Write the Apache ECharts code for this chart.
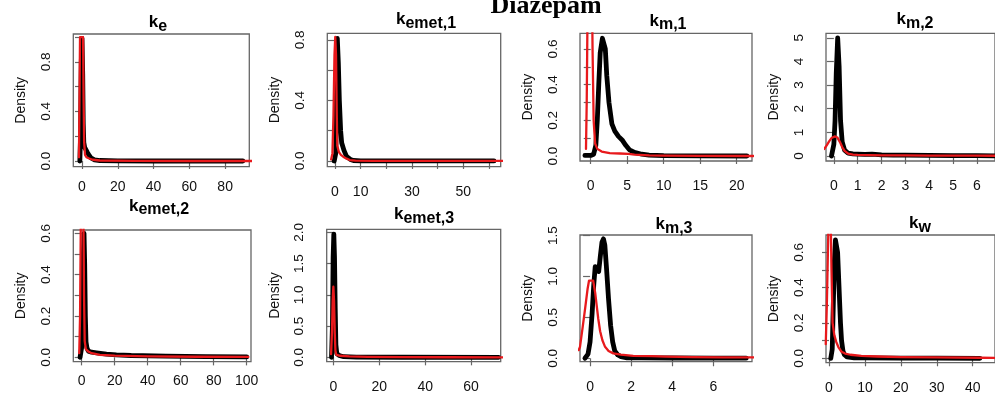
<!DOCTYPE html>
<html>
<head>
<meta charset="utf-8">
<script src="https://cdn.jsdelivr.net/npm/echarts@6/dist/echarts.min.js"></script>
<style>
html,body{margin:0;padding:0;background:#fff;}
#chart{width:995px;height:398px;}
</style>
</head>
<body>
<div id="chart"></div>
<script>
// ---------- data ----------
const mainTitle = 'Diazepam';
const panelNames = [['k','e'],['k','emet,1'],['k','m,1'],['k','m,2'],['k','emet,2'],['k','emet,3'],['k','m,3'],['k','w']];

const keBlack = [[-1.2,0],[-0.8,0.2],[-0.4,0.8],[0,0.99],[0.4,0.7],[0.7,0.3],[1.0,0.15],[1.5,0.11],[2,0.1],[3,0.07],[4,0.045],[5,0.025],[7,0.01],[10,0.004],[20,0.001],[40,0],[60,0],[89.9,0]];
const keRed = [[-1.7,0.03],[-1.4,0.5],[-1.1,1.0],[0.6,1.0],[0.9,0.5],[1.2,0.15],[1.7,0.05],[2.5,0.03],[4,0.02],[6,0.01],[10,0.004],[30,0.001],[60,0],[96,0]];

const kemet1Black = [[-0.3,0],[0.3,0.05],[0.6,0.5],[0.9,0.81],[1.3,0.65],[1.7,0.4],[2.2,0.2],[2.6,0.12],[3.5,0.07],[4.5,0.03],[6,0.01],[7.2,0.003],[10,0.001],[20,0],[40,0],[62,0]];
const kemet1Red = [[-1.5,0.01],[-1,0.05],[-0.6,0.3],[-0.2,0.7],[0.1,0.82],[0.4,0.7],[0.7,0.3],[0.9,0.1],[1.5,0.06],[2.3,0.04],[3.2,0.028],[4.5,0.015],[5.8,0.006],[8,0.002],[15,0.001],[30,0],[66,0]];

const km1Black = [[-0.8,0.003],[0,0.003],[0.4,0.01],[0.7,0.06],[0.9,0.2],[1.1,0.4],[1.3,0.58],[1.6,0.66],[1.8,0.66],[2.0,0.6],[2.2,0.45],[2.5,0.3],[2.9,0.18],[3.3,0.14],[3.8,0.11],[4.3,0.09],[4.8,0.06],[5.3,0.035],[6,0.02],[7,0.01],[8,0.005],[10,0.002],[15,0.001],[21.4,0]];
const km1Red = [[-0.65,0.04],[-0.55,0.3],[-0.45,0.75],[-0.3,1.3],[0,1.5],[0.15,1.0],[0.25,0.6],[0.4,0.2],[0.6,0.07],[0.9,0.04],[1.5,0.025],[2.6,0.016],[4,0.014],[5.2,0.012],[6,0.008],[8,0.004],[10,0.002],[15,0.001],[22.3,0]];

const km2Black = [[-0.1,0],[0,0.5],[0.05,1.5],[0.1,3.5],[0.16,5.0],[0.22,3.8],[0.28,1.5],[0.35,0.6],[0.45,0.25],[0.6,0.12],[0.8,0.09],[1.0,0.08],[1.3,0.07],[1.6,0.08],[2.0,0.05],[2.5,0.04],[3,0.04],[4,0.03],[5,0.02],[6,0.02],[6.8,0.01]];
const km2Red = [[-0.4,0.3],[-0.3,0.45],[-0.2,0.62],[-0.1,0.76],[0.05,0.83],[0.15,0.78],[0.25,0.6],[0.35,0.38],[0.45,0.22],[0.6,0.1],[0.8,0.06],[1.0,0.05],[1.5,0.04],[2,0.03],[3,0.025],[4,0.02],[5,0.02],[6,0.015],[7,0.01]];

const kemet2Black = [[-1,0],[0,0.05],[0.6,0.3],[1.0,0.5],[1.4,0.6],[1.8,0.45],[2.2,0.2],[2.6,0.075],[3.2,0.045],[4,0.03],[6,0.025],[9,0.022],[15,0.016],[21,0.012],[30,0.009],[51,0.006],[75,0.004],[100,0.002]];
const kemet2Red = [[-1.5,0.02],[-1,0.2],[-0.6,0.6],[-0.2,0.9],[0.5,0.95],[1.0,0.7],[1.4,0.3],[1.8,0.08],[2.5,0.04],[4,0.028],[6,0.02],[11,0.012],[20,0.008],[40,0.005],[70,0.003],[101,0.002]];

const kemet3Black = [[-0.8,0],[-0.4,0.5],[-0.1,1.6],[0.2,1.97],[0.5,1.6],[0.8,0.8],[1.1,0.2],[1.5,0.06],[2.5,0.03],[4.5,0.01],[10,0.003],[30,0.001],[72,0]];
const kemet3Red = [[-1,0.05],[-0.6,0.4],[-0.3,0.9],[0,1.13],[0.3,0.9],[0.6,0.4],[0.9,0.1],[1.3,0.04],[3,0.025],[7,0.015],[15,0.008],[30,0.003],[50,0.001],[76,0]];

const km3Black = [[-0.25,0],[-0.1,0.05],[0,0.2],[0.1,0.55],[0.18,0.9],[0.25,1.12],[0.33,1.14],[0.42,1.06],[0.5,1.25],[0.58,1.42],[0.65,1.46],[0.72,1.38],[0.8,1.1],[0.9,0.72],[1.0,0.4],[1.1,0.2],[1.2,0.09],[1.35,0.04],[1.5,0.02],[1.8,0.005],[2.5,0.005],[4,0.003],[6,0.002],[7.6,0.001]];
const km3Red = [[-0.55,0.1],[-0.49,0.14],[-0.35,0.4],[-0.24,0.61],[-0.12,0.85],[-0.05,0.95],[0.15,0.95],[0.25,0.8],[0.32,0.65],[0.4,0.48],[0.49,0.33],[0.6,0.22],[0.73,0.14],[0.9,0.09],[1.13,0.06],[1.5,0.045],[2.1,0.03],[3,0.025],[3.7,0.02],[5,0.015],[6.5,0.012],[8,0.01]];

const kwBlack = [[0.5,0],[0.9,0.05],[1.2,0.3],[1.5,0.55],[1.8,0.67],[2.1,0.68],[2.4,0.6],[2.8,0.4],[3.2,0.2],[3.5,0.1],[3.9,0.04],[4.3,0.02],[5,0.008],[7,0.003],[10,0.002],[20,0.001],[30,0.001],[42,0]];
const kwRed = [[-0.9,0.08],[-0.6,0.3],[-0.3,0.6],[-0.1,0.8],[0.2,0.85],[0.5,0.75],[0.7,0.5],[1.0,0.2],[1.5,0.13],[2.0,0.094],[2.7,0.06],[3.5,0.037],[4.5,0.027],[6,0.02],[9,0.014],[13.5,0.01],[20,0.007],[30,0.005],[42,0.003],[46,0.002]];

// tick values and tick labels
const keXTicks = [0,20,40,60,80], keXLabels = [0,20,40,60,80];
const keYTicks = [0,0.2,0.4,0.6,0.8,1.0], keYLabels = [0,0.4,0.8];
const kemet1XTicks = [0,10,20,30,40,50,60], kemet1XLabels = [0,10,30,50];
const kemet1YTicks = [0,0.2,0.4,0.6,0.8], kemet1YLabels = [0,0.4,0.8];
const km1XTicks = [0,5,10,15,20], km1XLabels = [0,5,10,15,20];
const km1YTicks = [0,0.1,0.2,0.3,0.4,0.5,0.6], km1YLabels = [0,0.2,0.4,0.6];
const km2XTicks = [0,1,2,3,4,5,6], km2XLabels = [0,1,2,3,4,5,6];
const km2YTicks = [0,1,2,3,4,5], km2YLabels = [0,1,2,3,4,5];
const kemet2XTicks = [0,20,40,60,80,100], kemet2XLabels = [0,20,40,60,80,100];
const kemet2YTicks = [0,0.1,0.2,0.3,0.4,0.5,0.6], kemet2YLabels = [0,0.2,0.4,0.6];
const kemet3XTicks = [0,20,40,60], kemet3XLabels = [0,20,40,60];
const kemet3YTicks = [0,0.5,1.0,1.5,2.0], kemet3YLabels = [0,0.5,1.0,1.5,2.0];
const km3XTicks = [0,2,4,6], km3XLabels = [0,2,4,6];
const km3YTicks = [0,0.5,1.0,1.5], km3YLabels = [0,0.5,1.0,1.5];
const kwXTicks = [0,10,20,30,40], kwXLabels = [0,10,20,30,40];
const kwYTicks = [0,0.1,0.2,0.3,0.4,0.5,0.6], kwYLabels = [0,0.2,0.4,0.6];

// ---------- layout ----------
const panels = [
  {name:0, tx:158, ty:14.2, g:[73.3,34,176,132.7],   x:[-4.86,93.5], y:[-0.046,1.026], xt:keXTicks, xl:keXLabels, yt:keYTicks, yl:keYLabels, dec:1, xm:13, black:keBlack, red:keRed},
  {name:1, tx:426, ty:10.8, g:[327.3,33.3,173.4,133.4],x:[-3.0,64.6], y:[-0.038,0.844], xt:kemet1XTicks, xl:kemet1XLabels, yt:kemet1YTicks, yl:kemet1YLabels, dec:1, xm:18, black:kemet1Black, red:kemet1Red},
  {name:2, tx:668, ty:12.5, g:[580,33.3,172,127.7],   x:[-1.47,22.1], y:[-0.028,0.688], xt:km1XTicks, xl:km1XLabels, yt:km1YTicks, yl:km1YLabels, dec:1, xm:18, black:km1Black, red:km1Red},
  {name:3, tx:915, ty:10.8, g:[826,33.3,178,127.7],   x:[-0.33,6.76], y:[-0.21,5.19],   xt:km2XTicks, xl:km2XLabels, yt:km2YTicks, yl:km2YLabels, dec:0, xm:18, black:km2Black, red:km2Red},
  {name:4, tx:159, ty:197.5,g:[73.3,230,177.7,131.7], x:[-5.1,102.6], y:[-0.021,0.616], xt:kemet2XTicks, xl:kemet2XLabels, yt:kemet2YTicks, yl:kemet2YLabels, dec:1, xm:12, black:kemet2Black, red:kemet2Red},
  {name:5, tx:424, ty:205.8,g:[326.7,229.3,174,132.4],x:[-2.9,72.9], y:[-0.07,2.048],   xt:kemet3XTicks, xl:kemet3XLabels, yt:kemet3YTicks, yl:kemet3YLabels, dec:1, xm:18, black:kemet3Black, red:kemet3Red},
  {name:6, tx:674, ty:215.8,g:[580,235,172,126.7],    x:[-0.49,7.88], y:[-0.042,1.507], xt:km3XTicks, xl:km3XLabels, yt:km3YTicks, yl:km3YLabels, dec:1, xm:18, black:km3Black, red:km3Red},
  {name:7, tx:920, ty:215.2,g:[826,235,188,127.7],    x:[-0.83,46.2], y:[-0.025,0.698], xt:kwXTicks, xl:kwXLabels, yt:kwYTicks, yl:kwYLabels, dec:1, xm:18, black:kwBlack, red:kwRed}
];

const FONT = '"Liberation Sans", Arial, Helvetica, sans-serif';
const BOX = '#666';
const K_SIZE = 17, SUB_SIZE = 16, SUB_DROP = 4.5;

const measureCtx = document.createElement('canvas').getContext('2d');
function textWidth(t, size) {
  measureCtx.font = 'bold ' + size + 'px ' + FONT;
  return measureCtx.measureText(t).width;
}

const option = {
  backgroundColor: '#fff',
  animation: false,
  title: [],
  grid: [], xAxis: [], yAxis: [], series: []
};

option.title.push({
  text: mainTitle, left: 541, top: -12, textAlign: 'center',
  textStyle: {fontFamily: '"Liberation Serif", "Times New Roman", serif', fontWeight: 'bold', fontSize: 26, color: '#000'}
});

panels.forEach((p, i) => {
  const nm = panelNames[p.name];
  const wk = textWidth(nm[0], K_SIZE), ws = textWidth(nm[1], SUB_SIZE);
  const x0 = p.tx - (wk + ws) / 2 + wk;
  option.title.push({
    text: nm[0], left: x0, top: p.ty, textAlign: 'right', padding: 0,
    textStyle: {fontFamily: FONT, fontWeight: 'bold', fontSize: K_SIZE, color: '#000'}
  });
  option.title.push({
    text: nm[1], left: x0, top: p.ty + SUB_DROP, textAlign: 'left', padding: 0,
    textStyle: {fontFamily: FONT, fontWeight: 'bold', fontSize: SUB_SIZE, color: '#000'}
  });
  option.grid.push({left: p.g[0], top: p.g[1], width: p.g[2], height: p.g[3], show: true, borderColor: BOX, borderWidth: 1.3, backgroundColor: 'transparent', containLabel: false});
  option.xAxis.push({
    type: 'value', gridIndex: i, min: p.x[0], max: p.x[1],
    axisLine: {show: false},
    splitLine: {show: false},
    axisTick: {show: true, length: 8, customValues: p.xt, lineStyle: {color: BOX, width: 1.2}},
    axisLabel: {show: true, customValues: p.xl, margin: p.xm, fontFamily: FONT, fontSize: 14, color: '#111', formatter: v => String(v)}
  });
  option.yAxis.push({
    type: 'value', gridIndex: i, min: p.y[0], max: p.y[1],
    name: 'Density', nameLocation: 'middle', nameRotate: 90, nameGap: 45,
    nameTextStyle: {fontFamily: FONT, fontSize: 14, color: '#111'},
    axisLine: {show: false},
    splitLine: {show: false},
    axisTick: {show: true, length: 7, customValues: p.yt, lineStyle: {color: BOX, width: 1.2}},
    axisLabel: {show: true, customValues: p.yl, rotate: 90, margin: 20, fontFamily: FONT, fontSize: 13.5, color: '#111', formatter: v => Number(v).toFixed(p.dec)}
  });
  option.series.push({
    type: 'line', xAxisIndex: i, yAxisIndex: i, data: p.black, symbol: 'none', showSymbol: false, silent: true,
    lineStyle: {color: '#000', width: 4.8, join: 'round', cap: 'round'}, z: 2
  });
  option.series.push({
    type: 'line', xAxisIndex: i, yAxisIndex: i, data: p.red, symbol: 'none', showSymbol: false, silent: true,
    lineStyle: {color: '#e8191c', width: 2.3, join: 'round', cap: 'round'}, z: 3
  });
});

const chart = echarts.init(document.getElementById('chart'), null, {renderer: 'canvas'});
chart.setOption(option);
</script>
</body>
</html>
